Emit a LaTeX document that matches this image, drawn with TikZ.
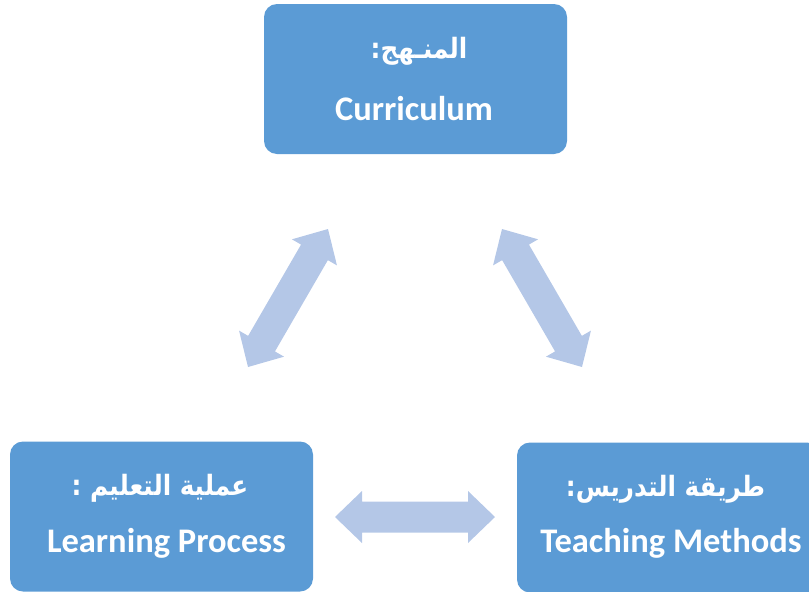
\documentclass[tikz,border=0pt]{standalone}
\usepackage{fontspec}
\setmainfont{Carlito}
\newfontfamily\arabicfont[Script=Arabic,FakeStretch=0.88]{DejaVu Sans}
\TeXXeTstate=1
\usetikzlibrary{calc}
\definecolor{boxblue}{HTML}{5B9BD5}
\definecolor{arrowblue}{HTML}{B4C7E7}
\newcommand\blockarrow[2]{%
  \fill[arrowblue] (#1)
   -- ($(#1)!27pt!(#2)!26pt!90:(#2)$)
   -- ($(#1)!27pt!(#2)!15.5pt!90:(#2)$)
   -- ($(#2)!27pt!(#1)!15.5pt!-90:(#1)$)
   -- ($(#2)!27pt!(#1)!26pt!-90:(#1)$)
   -- (#2)
   -- ($(#2)!27pt!(#1)!26pt!90:(#1)$)
   -- ($(#2)!27pt!(#1)!15.5pt!90:(#1)$)
   -- ($(#1)!27pt!(#2)!15.5pt!-90:(#2)$)
   -- ($(#1)!27pt!(#2)!26pt!-90:(#2)$)
   -- cycle;}
\tikzset{
  box/.style={fill=boxblue, draw=none, rounded corners=13pt, minimum width=303pt, minimum height=150pt, inner sep=0pt},
  artext/.style={anchor=base, text=white, inner sep=0pt, font=\arabicfont\bfseries\fontsize{28}{32}\selectfont},
  entext/.style={anchor=base, text=white, inner sep=0pt, font=\bfseries\fontsize{34.5}{40}\selectfont},
}
\begin{document}
\begin{tikzpicture}[x=1pt, y=-1pt]
\useasboundingbox (0,0) rectangle (809,592);
\clip (0,0) rectangle (809,592);
\node[box] (cur) at (415.5,79) {};
\node[box] (learn) at (161.5,516.5) {};
\node[box] (teach) at (668.5,517.5) {};
\node[artext] (curar) at (419,58) {\beginR المنـهج:\endR};
\node[entext] (curen) at (414,120) {Curriculum};
\node[artext] (learnar) at (160,495) {\beginR عملية التعليم :\endR};
\node[entext] (learnen) at (166.5,552) {Learning Process};
\node[artext] (teachar) at (665.5,496) {\beginR طريقة التدريس:\endR};
\node[entext] (teachen) at (671,552) {Teaching Methods};
\coordinate (l1) at (248,367);
\coordinate (l2) at (328,229);
\coordinate (r1) at (502,229);
\coordinate (r2) at (582,367);
\coordinate (h1) at (335,517);
\coordinate (h2) at (495,517);
\blockarrow{l1}{l2}
\blockarrow{r1}{r2}
\blockarrow{h1}{h2}
\end{tikzpicture}
\end{document}
